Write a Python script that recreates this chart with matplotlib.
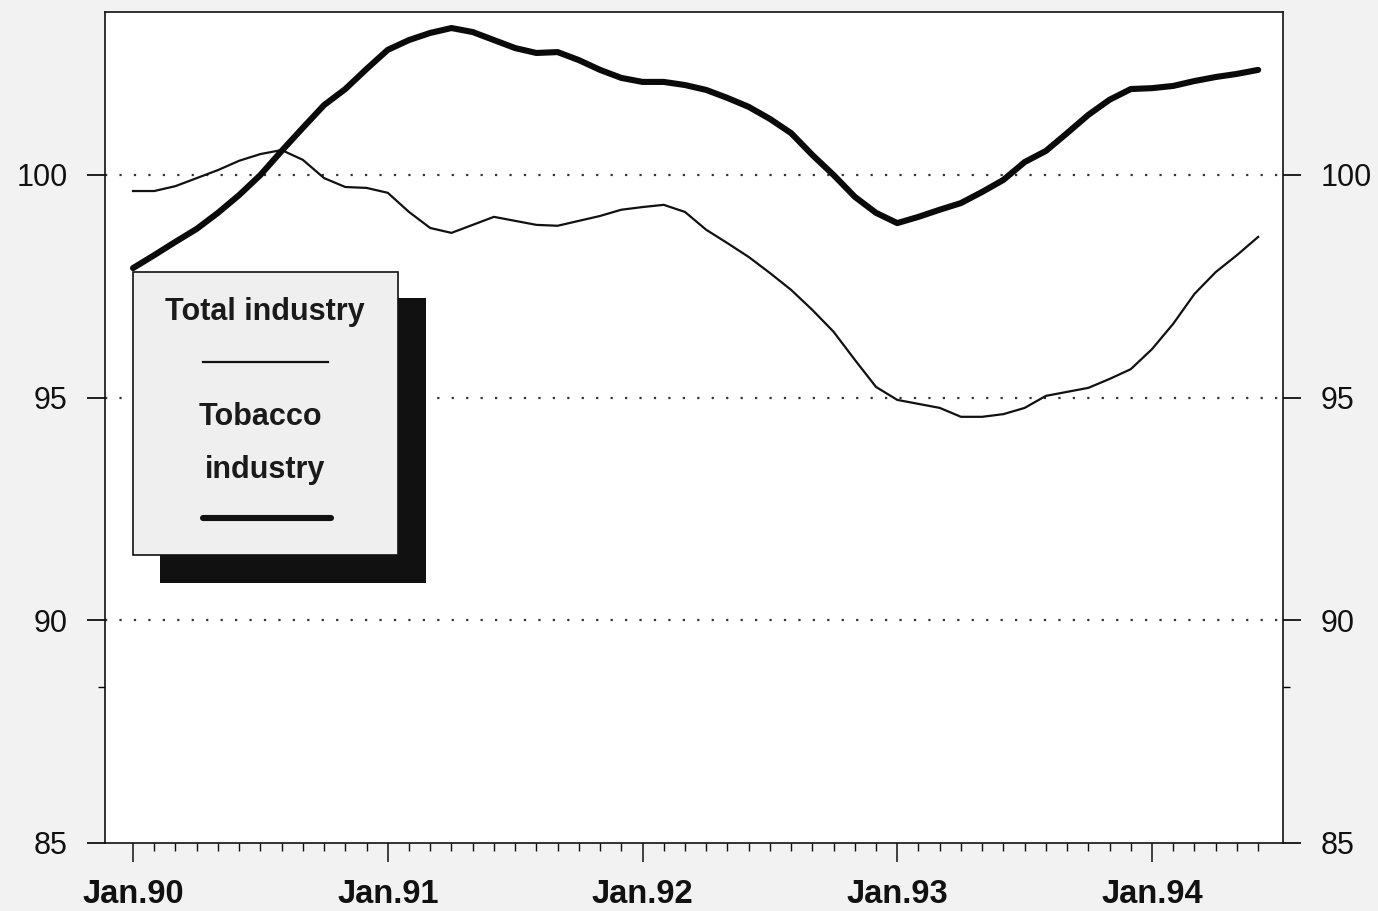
import matplotlib
matplotlib.use('Agg')
from matplotlib import pyplot as plt
from matplotlib.patches import Rectangle
from matplotlib.lines import Line2D
from matplotlib.ticker import FixedLocator

# Monthly index values, Jan.90 .. Jun.94
months = list(range(54))
total_industry = [
    99.64, 99.64, 99.75, 99.93, 100.11, 100.32, 100.47, 100.56, 100.34, 99.93,
    99.73, 99.71, 99.60, 99.17, 98.81, 98.70, 98.88, 99.06, 98.97, 98.88,
    98.86, 98.97, 99.08, 99.22, 99.28, 99.33, 99.17, 98.77, 98.47, 98.16,
    97.80, 97.42, 96.97, 96.48, 95.85, 95.24, 94.95, 94.86, 94.77, 94.57,
    94.57, 94.63, 94.77, 95.04, 95.13, 95.22, 95.42, 95.64, 96.09, 96.66,
    97.33, 97.82, 98.20, 98.61,
]
tobacco_industry = [
    97.91, 98.20, 98.50, 98.79, 99.15, 99.55, 100.00, 100.54, 101.06, 101.57,
    101.93, 102.38, 102.81, 103.03, 103.19, 103.30, 103.21, 103.03, 102.85, 102.74,
    102.76, 102.58, 102.36, 102.18, 102.09, 102.09, 102.02, 101.91, 101.73, 101.53,
    101.26, 100.94, 100.45, 100.00, 99.51, 99.15, 98.92, 99.06, 99.22, 99.37,
    99.62, 99.89, 100.29, 100.54, 100.94, 101.35, 101.69, 101.93, 101.95, 102.00,
    102.11, 102.20, 102.27, 102.36,
]
year_ticks = [0, 12, 24, 36, 48]
year_labels = ['Jan.90', 'Jan.91', 'Jan.92', 'Jan.93', 'Jan.94']
y_ticks = [85, 90, 95, 100]
grid_levels = [90, 95, 100]

plain = ['Liberation Sans', 'DejaVu Sans']

fig = plt.figure(figsize=(13.78, 9.11), dpi=100, facecolor='#f2f2f2')
ax = fig.add_axes([105/1378, 1 - 843/911, 1178/1378, 831/911])
ax.set_facecolor('white')

# dotted reference lines
for lvl in grid_levels:
    ax.axhline(lvl, color='#333333', lw=1.6, ls=(0, (1, 5.5)), zorder=1)

ax.plot(months, total_industry, color='#111111', lw=1.6, zorder=3)
ax.plot(months, tobacco_industry, color='#0a0a0a', lw=4.4,
        solid_capstyle='round', solid_joinstyle='round', zorder=3)

ax.set_xlim(-1.32, 54.17)
ax.set_ylim(85, 103.66)

for s in ax.spines.values():
    s.set_linewidth(1.2)
    s.set_color('#111111')

# x axis: monthly minor ticks, yearly major ticks
ax.xaxis.set_major_locator(FixedLocator(year_ticks))
ax.xaxis.set_minor_locator(FixedLocator([m for m in range(54) if m % 12]))
ax.set_xticklabels(year_labels, fontfamily=plain, fontweight='bold', fontsize=23.5)
ax.tick_params(axis='x', which='major', direction='out', length=14, width=1.1, pad=12,
               colors='#111111')
ax.tick_params(axis='x', which='minor', direction='out', length=6, width=1.0,
               colors='#111111')

# y axis labelled on both sides
ax.yaxis.set_ticks_position('both')
ax.yaxis.set_major_locator(FixedLocator(y_ticks))
ax.yaxis.set_minor_locator(FixedLocator([88.5]))
ax.set_yticklabels([str(v) for v in y_ticks], fontfamily=plain, fontsize=22)
ax.tick_params(axis='y', which='major', direction='out', length=13, width=1.3,
               left=True, right=True, labelleft=True, labelright=True, pad=14,
               colors='#111111')
ax.tick_params(axis='y', which='minor', direction='out', length=5, width=1.0,
               left=True, right=True)

# hand-drawn legend box with a drop shadow
tr = ax.transAxes
ax.add_patch(Rectangle((0.0467, 0.3129), 0.2258, 0.3429, transform=tr,
                       facecolor='#111111', edgecolor='none', zorder=5))
ax.add_patch(Rectangle((0.0238, 0.3466), 0.2249, 0.3405, transform=tr,
                       facecolor='#efefef', edgecolor='#111111', lw=1.2, zorder=6))
ax.text(0.1358, 0.6390, 'Total industry', transform=tr, ha='center', va='center',
        fontsize=22, fontweight='bold', fontfamily=plain, color='#1a1a1a', zorder=7)
ax.add_line(Line2D([0.0832, 0.1893], [0.5788, 0.5788], transform=tr,
                   color='#111111', lw=1.6, zorder=7))
ax.text(0.1316, 0.5126, 'Tobacco', transform=tr, ha='center', va='center',
        fontsize=22, fontweight='bold', fontfamily=plain, color='#1a1a1a', zorder=7)
ax.text(0.1358, 0.4489, 'industry', transform=tr, ha='center', va='center',
        fontsize=22, fontweight='bold', fontfamily=plain, color='#1a1a1a', zorder=7)
ax.add_line(Line2D([0.0832, 0.1919], [0.3911, 0.3911], transform=tr,
                   color='#111111', lw=4.4, solid_capstyle='round', zorder=7))

fig.savefig('out.png', dpi=100, facecolor=fig.get_facecolor())
